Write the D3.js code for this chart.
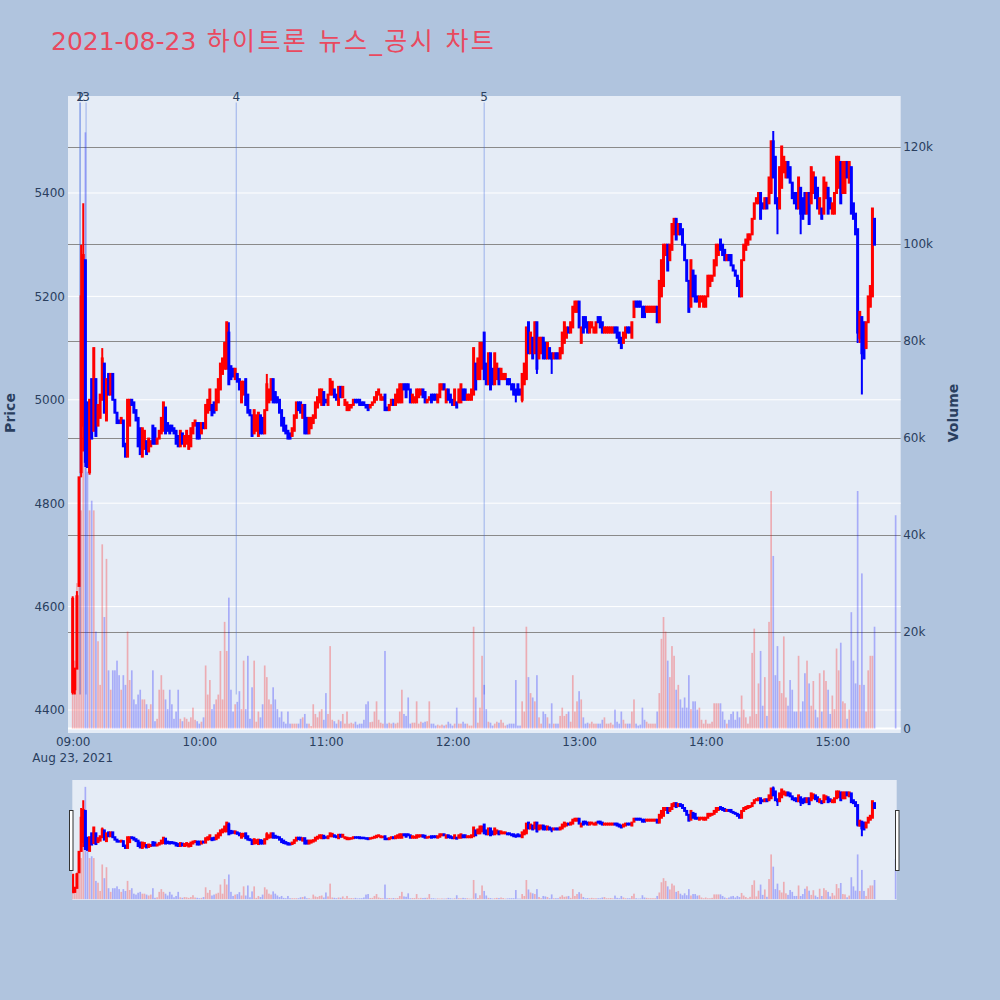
<!DOCTYPE html>
<html><head><meta charset="utf-8">
<script src="https://cdn.jsdelivr.net/npm/d3@7"></script>
<style>body{margin:0;background:#B0C4DE;}svg{display:block}</style>
</head><body>
<svg id="c" width="1000" height="1000"></svg>
<script>
// ---- data (1-minute bars from 09:00, index = minute offset) ----
const openP = [
4435,4440,4480,4640,4860,4950,5270,4995,4860,5040,
4940,5040,4950,4965,5000,5070,4960,5050,5010,5050,
5000,4975,4960,4955,4960,4915,4890,4950,5000,4995,
4980,4965,4945,4890,4905,4920,4900,4910,4950,4945,
4915,4925,4935,4940,4985,4955,4950,4950,4945,4940,
4930,4910,4935,4910,4915,4905,4910,4935,4950,4955,
4955,4935,4955,4945,4975,4980,4990,4995,4980,4995,
5020,5050,5060,5060,5130,5065,5060,5040,5050,5040,
4995,5010,5040,5010,4980,4970,4935,4940,4930,4970,
4965,4935,4980,4995,5000,5040,5015,5005,5000,4980,
4965,4950,4940,4935,4930,4940,4965,4995,4995,4965,
4990,4965,4935,4945,4955,4965,4985,4995,4990,5015,
5000,4990,5010,5010,5020,5010,4990,5025,5005,4990,
4980,4980,4985,4990,5000,5000,5000,4995,4995,4990,
4990,4985,4990,4995,5000,5010,5000,5000,5010,4985,
4980,4990,5000,4990,4995,4995,4995,5030,5030,5030,
5020,4995,4995,4995,5005,5010,5020,5015,4995,5000,
5010,5010,5010,4995,5005,5020,5030,4995,5020,5010,
5000,4990,4995,4995,4995,5020,5020,5000,5000,5000,
5010,5070,5040,5040,5060,5130,5070,5030,5090,5060,
5030,5040,5060,5040,5040,5040,5040,5040,5030,5030,
5020,5030,5020,5000,5030,5040,5150,5090,5120,5090,
5150,5080,5090,5120,5110,5080,5100,5090,5080,5090,
5090,5080,5090,5110,5120,5140,5130,5140,5170,5170,
5190,5110,5160,5160,5150,5130,5140,5130,5130,5160,
5160,5150,5130,5130,5130,5130,5130,5140,5140,5130,
5120,5110,5120,5140,5140,5120,5160,5190,5190,5190,
5180,5180,5170,5170,5170,5170,5170,5180,5150,5200,
5220,5280,5300,5270,5290,5320,5350,5320,5340,5330,
5300,5270,5230,5180,5250,5240,5200,5180,5190,5180,
5180,5200,5220,5230,5240,5260,5280,5310,5300,5290,
5270,5280,5280,5260,5250,5240,5230,5200,5270,5290,
5300,5310,5320,5350,5380,5380,5400,5380,5370,5390,
5380,5400,5500,5470,5390,5370,5410,5440,5430,5460,
5450,5420,5400,5400,5370,5410,5390,5400,5360,5400,
5380,5400,5430,5410,5360,5370,5360,5390,5410,5390,
5360,5360,5400,5410,5460,5400,5400,5460,5420,5450,
5380,5360,5330,5120,5160,5150,5100,5150,5180,5200,
5350,null,null,null,null,null,null,null,null,null,
5330];
const closeP = [
4615,4480,4620,4850,5200,5280,4880,4870,5000,4925,
5100,4930,4990,5010,5080,4975,5040,5010,5050,5000,
4975,4955,4955,4965,4910,4890,5000,5000,4990,4975,
4960,4910,4895,4945,4940,4895,4925,4920,4915,4915,
4925,4940,4965,4995,4935,4940,4935,4940,4935,4915,
4910,4940,4915,4930,4940,4930,4945,4955,4960,4925,
4925,4955,4945,4990,5000,5020,4970,4975,5020,5040,
5070,5080,5110,5150,5030,5040,5045,5060,5035,5020,
5035,5035,4990,4975,4970,4930,4980,4970,4975,4935,
4935,4980,5030,5020,5040,4995,4995,4995,4975,4950,
4940,4935,4925,4925,4945,4970,4995,4980,4975,4990,
4935,4935,4965,4965,4970,4995,5005,5020,5020,4990,
4995,5010,5040,5035,5005,5000,5025,5005,5025,5000,
4995,4990,4990,5000,4995,4995,4990,4990,4990,4985,
4980,4990,4995,5005,5015,5020,5010,5005,4980,4980,
4990,5000,4990,5010,5020,5030,5030,5020,5005,5020,
4995,5010,5005,5020,5020,5020,5005,4995,5000,5005,
4995,5000,5000,5010,5030,5030,5020,5020,5000,4995,
4990,5020,4985,5020,5030,5000,5000,5010,5010,5020,
5100,5020,5080,5110,5110,5040,5030,5090,5020,5030,
5090,5070,5030,5060,5050,5050,5030,5030,5020,5010,
5010,5010,5010,5050,5070,5140,5090,5130,5080,5150,
5060,5120,5120,5080,5080,5110,5080,5080,5090,5080,
5080,5100,5130,5150,5140,5130,5150,5180,5190,5190,
5140,5140,5130,5140,5130,5150,5150,5140,5150,5150,
5140,5130,5140,5140,5140,5140,5140,5130,5120,5110,
5100,5130,5140,5130,5130,5150,5190,5180,5180,5180,
5160,5160,5180,5180,5180,5180,5180,5150,5230,5270,
5300,5300,5250,5300,5340,5350,5310,5340,5320,5300,
5270,5230,5170,5270,5200,5190,5190,5200,5200,5200,
5200,5240,5240,5240,5270,5300,5300,5290,5280,5270,
5280,5270,5260,5250,5240,5220,5200,5270,5300,5310,
5320,5320,5350,5380,5390,5400,5350,5370,5390,5370,
5430,5500,5430,5380,5370,5450,5490,5470,5460,5430,
5420,5390,5380,5370,5430,5360,5350,5360,5400,5340,
5450,5440,5390,5370,5390,5350,5430,5420,5360,5370,
5380,5400,5470,5470,5380,5460,5460,5430,5460,5360,
5350,5320,5130,5170,5090,5080,5150,5200,5220,5370,
5300,null,null,null,null,null,null,null,null,null,
5330];
// wicks reaching beyond the body: [minute, high]
const highWicks = [[0,4620],[2,4630],[4,5300],[5,5380],[14,5100],[74,5150],[92,5050],[195,5130],[332,5520]];
// [minute, low]
const lowWicks = [[0,4430],[1,4430],[4,4850],[5,4900],[6,4870],[8,4855],[210,4995],[213,4995],[220,5050],[227,5050],[334,5320],[345,5320],[372,5110],[373,5110],[374,5010]];
// volume in thousands of shares
const volumeK = [
25,14,30,40,45,60,123,53,45,47,
45,20,18,9,38,23,35,12,8,12,
12,14,11,8,11,9,20,10,12,6,
5,7,8,6,6,5,4,5,12,1.5,
2,8,11,8,6,4,8,5,2,3.5,
8,2,1.5,2.3,2,1.4,2.3,4.3,1.8,1.5,
1,1.4,2.3,13,7,10,4,5,6,7,
16,6,22,16,27,8,3.5,5,5.5,7.7,
4,14,4,15,2,8.5,14,1.4,3.5,2.3,
5,13,10.6,6,5,8.5,6,4,2.3,3.5,
1.4,1,3.5,1,1,1,1,1,2,2.3,
3,1,1,0.5,5,3,2.3,3.5,4,1.8,
7.3,3,17,1.8,1.5,1,1.8,1.5,3,1,
3.5,1,1.2,1,1.4,0.8,1,1,1.8,5,
5.6,1.3,1.4,3.5,5.6,1.8,1.2,1,16,1,
1.2,1,1.2,1,1.2,3.5,8,3,2.6,6.4,
1,1.2,1.2,5.6,1,1.4,1.2,1.4,1.5,5.6,
1,1,0.6,0.8,0.6,0.8,0.6,0.8,1.4,1,
0.6,1,4.3,1,1,1.4,1,1,0.6,0.6,
21,6.4,1.2,4.3,15,9,4,1.4,1.2,0.6,
1,1.4,1.2,1.8,1.2,0.6,0.8,1,1,1,
10,0.6,0.6,5.6,3.5,21,10.6,7.3,6.4,5.6,
11,2.3,1,3.5,3,2.3,1,5.2,1,1,
1,2.6,4.3,2.6,3,3.5,1.4,11,3.5,5.6,
7.7,6,2.3,1,1.2,1,1.4,1,1,1,
1,1.8,2.3,1,1,1.2,0.8,3.9,1.4,1,
3.5,1.8,1,1,1,3.5,6,1,0.6,0.8,
4.3,1.8,1.4,1,1,1,1,3.5,7.3,18.5,
23,20,14,10.6,17,15,8,9,6,4.3,
6.4,4.3,11,4,5.6,5.6,3.9,4.3,1.8,1,
1.8,1,1,1.4,5.2,5.2,5.2,5.2,3.5,1.8,
1,1.8,3,3.5,1.8,3.5,2.3,6.8,3.9,2.3,
1,2.5,15.6,20.6,3,9.3,16,4.7,10.6,2.6,
22,49,35.6,11,17,9.8,7.3,19,6.4,4.7,
10,8,3.5,3.5,15,3.5,5.6,11.4,14,9.3,
4.7,9.8,3.9,2.3,11.4,3.5,12,9.8,8,3,
6.8,4,16.5,12,17.7,5.6,5.2,2,3.9,24,
14,9.3,49,9,32,9,3.5,12,15,15,
21,null,null,null,null,null,null,null,null,null,
44];
const priceTicks = [4400,4600,4800,5000,5200,5400];
const volumeTicks = [0,20000,40000,60000,80000,100000,120000];
const timeTicks = ["09:00","10:00","11:00","12:00","13:00","14:00","15:00"];
const newsTimes = ["09:03:20","09:03:40","09:06:20","10:17:30","12:15:00"];
const newsLabels = ["1","2","3","4","5"];
const titleDate = "2021-08-23";
const titleRest = " 하이트론 뉴스_공시 차트";

// ---- build ----
const day = "2021-08-23";
const parseT = d3.timeParse("%Y-%m-%d %H:%M:%S");
const base = parseT(day + " 09:00:00");
const atMin = m => new Date(base.getTime() + m * 60000);
const hi = new Map(highWicks), lo = new Map(lowWicks);
const bars = [];
openP.forEach((o, i) => {
  if (o == null) return;
  const c = closeP[i];
  bars.push({t: atMin(i), o, c,
    h: hi.has(i) ? hi.get(i) : Math.max(o, c),
    l: lo.has(i) ? lo.get(i) : Math.min(o, c),
    v: volumeK[i] * 1000, up: c > o});
});

const PL = 68, PR = 900.7, PT = 96, PB = 733;
const SL = 72.3, SR = 896.7, ST = 780, SB = 900;
const x = d3.scaleTime().domain([atMin(-2.227), atMin(392.4)]).range([PL, PR]);
const priceDom = [4355.5, 5587.6], volDom = [-930, 130500];
const yP = d3.scaleLinear().domain(priceDom).range([PB, PT]);
const yV = d3.scaleLinear().domain(volDom).range([PB, PT]);
const yPs = d3.scaleLinear().domain(priceDom).range([SB, ST]);
const yVs = d3.scaleLinear().domain(volDom).range([SB, ST]);

const RED = "#ff0000", BLUE = "#0000ff";
const FONT = "'DejaVu Sans', Verdana, sans-serif";
const TXT = "#2a3f5f";
const svg = d3.select("#c");
svg.append("rect").attr("width", 1000).attr("height", 1000).attr("fill", "#B0C4DE");

const defs = svg.append("defs");
defs.append("clipPath").attr("id", "clipMain").append("rect")
  .attr("x", PL).attr("y", PT).attr("width", PR - PL).attr("height", PB - PT);
defs.append("clipPath").attr("id", "clipSl").append("rect")
  .attr("x", SL).attr("y", ST).attr("width", SR - SL).attr("height", SB - ST);

// plot background
svg.append("rect").attr("x", PL).attr("y", PT).attr("width", PR - PL).attr("height", PB - PT).attr("fill", "#E5ECF6");

// price grid (white)
svg.append("g").selectAll("line").data(priceTicks).join("line")
  .attr("x1", PL).attr("x2", PR).attr("y1", d => yP(d)).attr("y2", d => yP(d))
  .attr("stroke", "#fff").attr("stroke-width", 1);
// volume grid (grey)
svg.append("g").selectAll("line").data(volumeTicks.filter(d => d > 0)).join("line")
  .attr("x1", PL).attr("x2", PR).attr("y1", d => Math.round(yV(d)) + 0.5).attr("y2", d => Math.round(yV(d)) + 0.5)
  .attr("stroke", "#8a8a8a").attr("stroke-width", 1);
// volume zero line
svg.append("line").attr("x1", PL).attr("x2", PR).attr("y1", yV(0)).attr("y2", yV(0))
  .attr("stroke", "#fff").attr("stroke-width", 2);

// news marker lines
const newsT = newsTimes.map(s => parseT(day + " " + s));
svg.append("g").attr("clip-path", "url(#clipMain)").selectAll("line").data(newsT).join("line")
  .attr("x1", d => x(d)).attr("x2", d => x(d))
  .attr("y1", yP(5575)).attr("y2", yP(4430))
  .attr("stroke", "rgba(65,105,225,0.45)").attr("stroke-width", 1);

function drawSeries(g, yPr, yVo) {
  const bw = x(atMin(0.8)) - x(atMin(0));
  const cw = x(atMin(0.45)) - x(atMin(0));
  const cg = g.append("g");
  cg.selectAll("line").data(bars).join("line")
    .attr("x1", d => x(d.t)).attr("x2", d => x(d.t))
    .attr("y1", d => yPr(d.h)).attr("y2", d => yPr(d.l))
    .attr("stroke", d => d.up ? RED : BLUE).attr("stroke-width", 2);
  cg.selectAll("rect").data(bars).join("rect")
    .attr("x", d => x(d.t) - cw / 2).attr("width", cw)
    .attr("y", d => yPr(Math.max(d.o, d.c)))
    .attr("height", d => Math.abs(yPr(d.o) - yPr(d.c)))
    .attr("fill", d => d.up ? RED : BLUE)
    .attr("stroke", d => d.up ? RED : BLUE).attr("stroke-width", 2);
  g.append("g").selectAll("rect").data(bars).join("rect")
    .attr("x", d => x(d.t) - bw / 2).attr("width", bw)
    .attr("y", d => yVo(d.v)).attr("height", d => yVo(0) - yVo(d.v))
    .attr("fill", d => d.up ? "rgba(255,0,0,0.27)" : "rgba(0,0,255,0.27)");
}
drawSeries(svg.append("g").attr("clip-path", "url(#clipMain)"), yP, yV);

// news labels (1 and 2 share almost the same time, as in the original)
svg.append("g").selectAll("text").data(newsT).join("text")
  .attr("x", d => x(d)).attr("y", 100.7).attr("text-anchor", "middle")
  .attr("font-family", FONT).attr("font-size", 12).attr("fill", TXT)
  .text((d, i) => newsLabels[i]);

// axes
const axL = svg.append("g").attr("transform", `translate(${PL},0)`)
  .call(d3.axisLeft(yP).tickValues(priceTicks).tickSize(0).tickPadding(3).tickFormat(d3.format("d")));
const axR = svg.append("g").attr("transform", `translate(${PR},0)`)
  .call(d3.axisRight(yV).tickValues(volumeTicks).tickSize(0).tickPadding(2.5)
    .tickFormat(d => d === 0 ? "0" : (d / 1000) + "k"));
const tf = d3.timeFormat("%H:%M");
const axB = svg.append("g").attr("transform", `translate(0,${PB})`)
  .call(d3.axisBottom(x).tickValues(timeTicks.map(s => parseT(day + " " + s + ":00"))).tickSize(0).tickPadding(4.5).tickFormat(tf));
[axL, axR, axB].forEach(a => {
  a.select(".domain").remove();
  a.selectAll("text").attr("font-family", FONT).attr("font-size", 12).attr("fill", TXT);
});
svg.append("text").attr("x", x(base)).attr("y", 762).attr("text-anchor", "middle")
  .attr("font-family", FONT).attr("font-size", 12).attr("fill", TXT)
  .text(d3.timeFormat("%b %d, %Y")(base));

// axis titles
svg.append("text").attr("transform", "translate(10,413) rotate(-90)").attr("text-anchor", "middle")
  .attr("dominant-baseline", "central").attr("font-family", FONT).attr("font-size", 14)
  .attr("font-weight", "bold").attr("fill", TXT).text("Price");
svg.append("text").attr("transform", "translate(953,413) rotate(-90)").attr("text-anchor", "middle")
  .attr("dominant-baseline", "central").attr("font-family", FONT).attr("font-size", 14)
  .attr("font-weight", "bold").attr("fill", TXT).text("Volume");

// title
const title = svg.append("text").attr("x", 51).attr("y", 50)
  .attr("font-family", "'DejaVu Sans', 'Noto Sans CJK KR', sans-serif").attr("font-size", 25)
  .attr("fill", "#e9495f");
title.append("tspan").text(titleDate);
title.append("tspan").attr("letter-spacing", 2.4).text(titleRest);

// range slider
svg.append("rect").attr("x", SL).attr("y", ST).attr("width", SR - SL).attr("height", SB - ST).attr("fill", "#E5ECF6");
drawSeries(svg.append("g").attr("clip-path", "url(#clipSl)"), yPs, yVs);
[69.5, 895.5].forEach(hx => {
  svg.append("rect").attr("x", hx).attr("y", 810.5).attr("width", 3.5).attr("height", 60)
    .attr("fill", "#fff").attr("stroke", "#333").attr("stroke-width", 1);
});
</script>
</body></html>
